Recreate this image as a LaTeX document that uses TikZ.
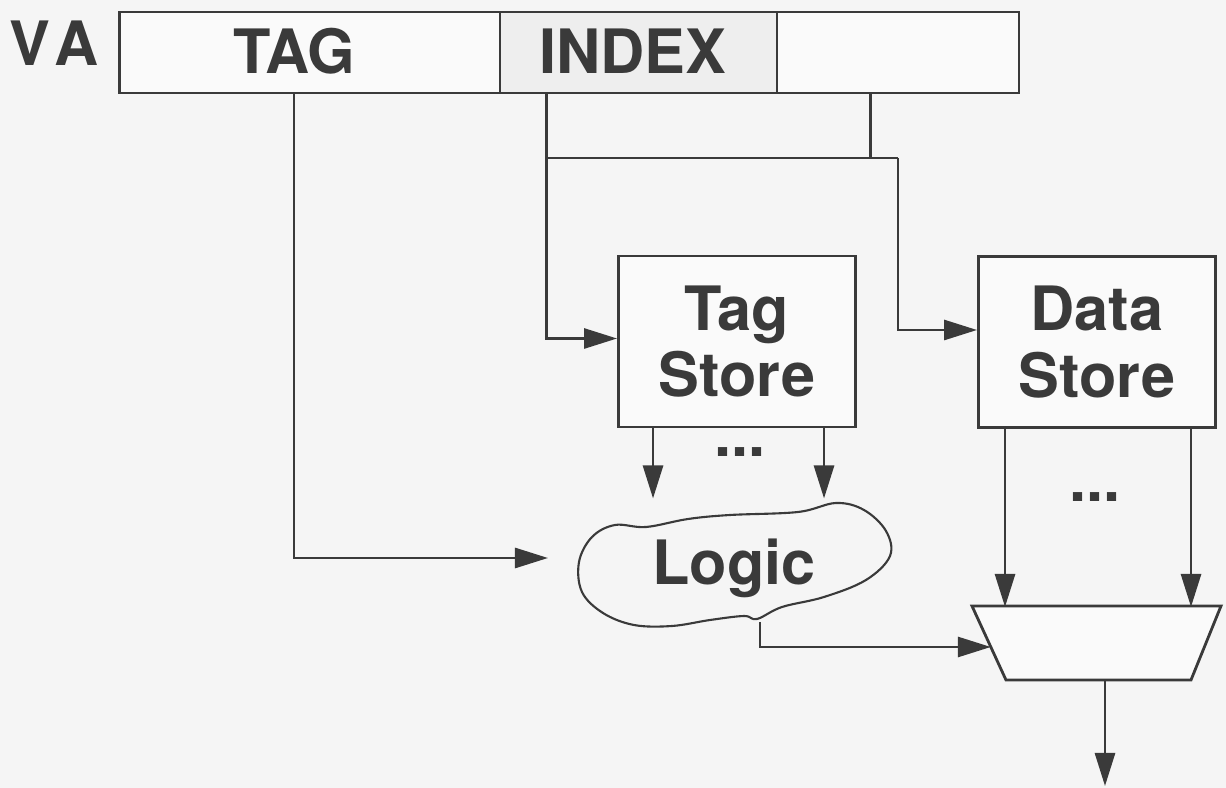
\documentclass[tikz,border=0pt]{standalone}
\usepackage{fontspec}
\setmainfont{TeX Gyre Heros}
\usetikzlibrary{arrows.meta,positioning,calc}
\definecolor{ink}{HTML}{3a3a3a}
\definecolor{paper}{HTML}{f5f5f5}
\definecolor{boxfill}{HTML}{fafafa}

\begin{document}
\begin{tikzpicture}[
  x=0.01cm, y=-0.01cm,
  every node/.style={font=\fontsize{17.4}{19}\selectfont\bfseries, text=ink},
  field/.style={draw=ink, line width=0.8pt, fill=boxfill, minimum height=0.81cm, inner sep=0pt},
  store/.style={draw=ink, line width=0.8pt, fill=boxfill, minimum width=2.37cm, minimum height=1.71cm, align=center, inner sep=0pt},
  line/.style={draw=ink, line width=0.8pt},
  wire/.style={line, -{Triangle[length=0.33cm, width=0.2cm]}}
]
% sheet
\fill[paper] (0,0) rectangle (1226,788);
\useasboundingbox (0,0) rectangle (1226,788);

% virtual address split into fields
\node (va) at (54,43) {V\kern1pt A};
\node[field, minimum width=3.8cm] (tagf) at (310,52.5) {};
\node[field, minimum width=2.77cm, fill=paper!97!black] (idxf) at (638.5,52.5) {};
\node[field, minimum width=2.42cm] (offf) at (898,52.5) {};
\node (tagl) at (294,51) {TAG};
\node (idxl) at (633,51) {INDEX};

% the two arrays
\node[store] (tagstore) at (737,341.5) {Tag\\Store};
\node[store] (datastore) at (1097,342) {Data\\Store};

% compare logic (hand drawn outline)
\node (logic) at (734,568) {Logic};
\draw[line, line width=0.6pt] plot[smooth cycle, tension=0.6] coordinates {
  (615,525) (592,537) (579,562) (582,592) (603,613) (634,625) (672,626)
  (710,620) (744,616) (757,619) (782,607) (824,597) (866,580) (890,556)
  (886,531) (864,510) (836,503) (798,512) (730,515) (688,519) (646,527)};

% way select mux
\coordinate (mtl) at (972,606);
\coordinate (mtr) at (1221,606);
\coordinate (mbr) at (1191,680);
\coordinate (mbl) at (1006,680);
\draw[line, fill=boxfill] (mtl) -- (mtr) -- (mbr) -- (mbl) -- cycle;
\coordinate (muxout) at (1105,680);

% tag bits go to the comparison
\coordinate (logicin) at (548,558);
\draw[wire] (tagl |- tagf.south) |- (logicin);

% index bits feed both arrays
\coordinate (idxtap) at ($(idxf.south west)+(48,0)$);
\coordinate (split) at (898,158);
\draw[wire] (idxtap) |- ($(tagstore.west)+(0,-3)$);
\draw[line] ($(offf.south west)+(95,0)$) -- ++(0,65);
\draw[line] (idxtap |- split) -- (split);
\draw[wire] (split) |- ($(datastore.west)+(0,-12)$);

% tags read out of each way
\foreach \dx in {36,207}
  \draw[wire] ($(tagstore.south west)+(\dx,0)$) -- ++(0,70);
\node (tagdots) at (740,452) {...};

% data read out of each way
\foreach \dx in {28,214}
  \draw[wire] ($(datastore.south west)+(\dx,0)$) -- ++(0,178);
\node (datadots) at (1095,497) {...};

% hit logic selects the way
\coordinate (logicout) at (760,622);
\draw[wire] (logicout) |- ($(mtl)!0.554!(mbl)$);
\draw[wire] (muxout) -- ++(0,106);

\end{tikzpicture}
\end{document}
